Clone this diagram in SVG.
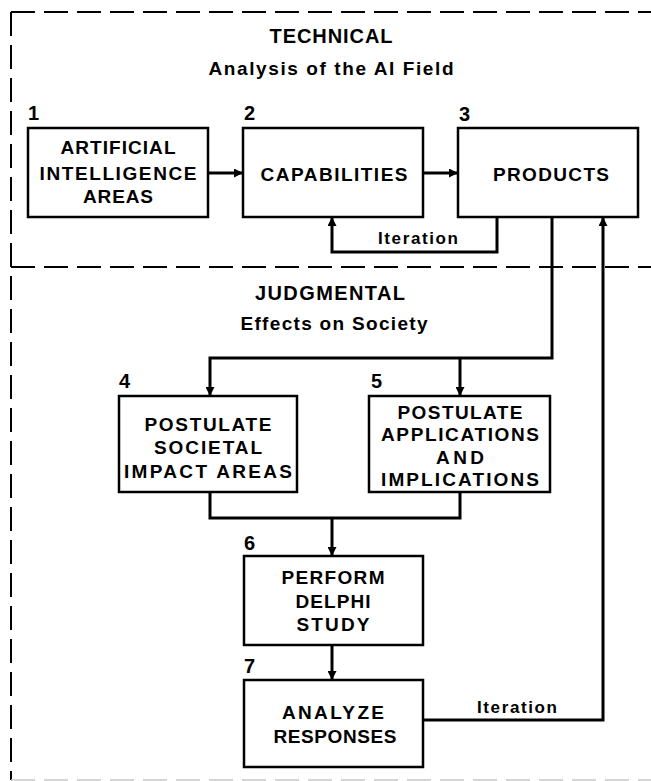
<svg xmlns="http://www.w3.org/2000/svg" width="651" height="781" viewBox="0 0 651 781">
<style>
  .bg { fill: #ffffff; }
  .box { fill: #ffffff; stroke: #000; stroke-width: 2.5; }
  .frame { fill: none; stroke: #000; stroke-width: 2; stroke-dasharray: 24 9; }
  .frame-light { fill: none; stroke: #c8c8c8; stroke-width: 1.5; stroke-dasharray: 24 9; }
  .conn { fill: none; stroke: #000; stroke-width: 3; }
  text { font-family: "Liberation Sans", Arial, sans-serif; font-weight: bold; fill: #000; }
  .t { font-size: 19px; text-anchor: middle; }
  .h { font-size: 20px; text-anchor: middle; }
  .s { font-size: 19px; text-anchor: middle; }
  .it { font-size: 17px; text-anchor: middle; }
  .num { font-size: 20px; }
</style>
<defs>
  <marker id="arr" viewBox="0 0 10 10" refX="10" refY="5" markerWidth="9" markerHeight="9" markerUnits="userSpaceOnUse" orient="auto">
    <path d="M0,0 L10,5 L0,10 z" fill="#000"/>
  </marker>
</defs>
<rect class="bg" x="0" y="0" width="651" height="781"/>

<g id="frame">
  <line class="frame" x1="11" y1="12" x2="651" y2="12"/>
  <line class="frame" x1="11" y1="12" x2="11" y2="780"/>
  <line class="frame" x1="11" y1="267" x2="651" y2="267"/>
  <line class="frame-light" x1="11" y1="780" x2="651" y2="780"/>
</g>

<g id="headers">
  <text class="h" x="331" y="43" textLength="123" lengthAdjust="spacing">TECHNICAL</text>
  <text class="s" x="331" y="75" textLength="245" lengthAdjust="spacing">Analysis of the AI Field</text>
  <text class="h" x="330" y="300" textLength="150" lengthAdjust="spacing">JUDGMENTAL</text>
  <text class="s" x="334" y="330" textLength="187" lengthAdjust="spacing">Effects on Society</text>
</g>

<g id="connectors">
  <line class="conn" x1="208" y1="173" x2="243" y2="173" marker-end="url(#arr)"/>
  <line class="conn" x1="423" y1="173" x2="458" y2="173" marker-end="url(#arr)"/>
  <path class="conn" d="M497,217 V252 H332 V217" marker-end="url(#arr)"/>
  <path class="conn" d="M552,217 V358 H210 V396" marker-end="url(#arr)"/>
  <path class="conn" d="M460,358 V396" marker-end="url(#arr)"/>
  <path class="conn" d="M210,492 V518 H460 V492"/>
  <path class="conn" d="M332,518 V556" marker-end="url(#arr)"/>
  <path class="conn" d="M332,645 V680" marker-end="url(#arr)"/>
  <path class="conn" d="M423,720 H603 V217" marker-end="url(#arr)"/>
  <text class="it" x="418" y="244" textLength="80" lengthAdjust="spacing">Iteration</text>
  <text class="it" x="517" y="713" textLength="80" lengthAdjust="spacing">Iteration</text>
</g>

<g id="node1">
  <rect class="box" x="28" y="128" width="180" height="89"/>
  <text class="num" x="28" y="120">1</text>
  <text class="t" x="118" y="154" textLength="115" lengthAdjust="spacing">ARTIFICIAL</text>
  <text class="t" x="118" y="180" textLength="157" lengthAdjust="spacing">INTELLIGENCE</text>
  <text class="t" x="118" y="203" textLength="70" lengthAdjust="spacing">AREAS</text>
</g>

<g id="node2">
  <rect class="box" x="243" y="128" width="180" height="89"/>
  <text class="num" x="244" y="120">2</text>
  <text class="t" x="334" y="181" textLength="147" lengthAdjust="spacing">CAPABILITIES</text>
</g>

<g id="node3">
  <rect class="box" x="458" y="128" width="180" height="89"/>
  <text class="num" x="459" y="121">3</text>
  <text class="t" x="551" y="181" textLength="116" lengthAdjust="spacing">PRODUCTS</text>
</g>

<g id="node4">
  <rect class="box" x="119" y="396" width="178" height="96"/>
  <text class="num" x="119" y="388">4</text>
  <text class="t" x="208" y="431" textLength="127" lengthAdjust="spacing">POSTULATE</text>
  <text class="t" x="208" y="454" textLength="108" lengthAdjust="spacing">SOCIETAL</text>
  <text class="t" x="208" y="478" textLength="168" lengthAdjust="spacing">IMPACT AREAS</text>
</g>

<g id="node5">
  <rect class="box" x="369" y="396" width="181" height="96"/>
  <text class="num" x="371" y="388">5</text>
  <text class="t" x="460" y="419" textLength="125" lengthAdjust="spacing">POSTULATE</text>
  <text class="t" x="460" y="441" textLength="158" lengthAdjust="spacing">APPLICATIONS</text>
  <text class="t" x="460" y="464" textLength="48" lengthAdjust="spacing">AND</text>
  <text class="t" x="460" y="486" textLength="158" lengthAdjust="spacing">IMPLICATIONS</text>
</g>

<g id="node6">
  <rect class="box" x="244" y="556" width="179" height="89"/>
  <text class="num" x="244" y="550">6</text>
  <text class="t" x="333" y="584" textLength="103" lengthAdjust="spacing">PERFORM</text>
  <text class="t" x="333" y="608" textLength="75" lengthAdjust="spacing">DELPHI</text>
  <text class="t" x="333" y="631" textLength="73" lengthAdjust="spacing">STUDY</text>
</g>

<g id="node7">
  <rect class="box" x="244" y="680" width="179" height="87"/>
  <text class="num" x="244" y="673">7</text>
  <text class="t" x="333" y="719" textLength="102" lengthAdjust="spacing">ANALYZE</text>
  <text class="t" x="335" y="743" textLength="123" lengthAdjust="spacing">RESPONSES</text>
</g>
</svg>
